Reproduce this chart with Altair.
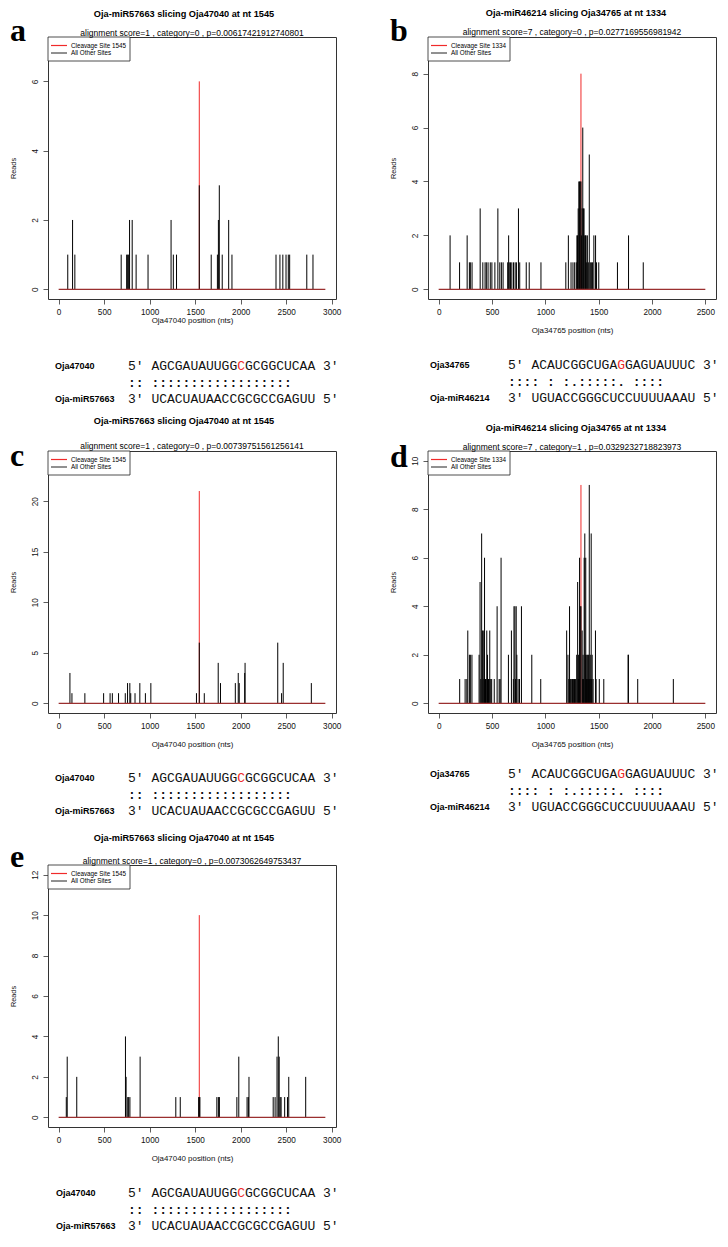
import altair as alt
import pandas as pd

# ------------------------------------------------------------------ data
X_TICKS_3000 = [0, 500, 1000, 1500, 2000, 2500, 3000]
X_TICKS_2500 = [0, 500, 1000, 1500, 2000, 2500]

# panel a
A_POS = [100, 153, 178, 687, 747, 758, 769, 779, 808, 851, 982, 1235, 1260, 1295, 1545,
         1676, 1744, 1755, 1765, 1797, 1868, 1904, 2388, 2431, 2463, 2498, 2523, 2538, 2726, 2794]
A_READS = [1, 2, 1, 1, 1, 1, 1, 2, 2, 1, 1, 2, 1, 1, 3,
           1, 1, 2, 3, 1, 2, 1, 1, 1, 1, 1, 1, 1, 1, 1]

# panel b
B_POS = [107, 196, 267, 288, 297, 313, 389, 414, 435, 447, 463, 484, 499, 527, 555, 573, 588, 604,
         647, 656, 662, 674, 686, 702, 717, 729, 748, 760, 821, 849, 959, 1192, 1216, 1241, 1259,
         1275, 1290, 1296, 1302, 1308, 1314, 1321, 1327, 1334, 1340, 1345, 1351, 1357, 1363, 1370,
         1376, 1382, 1388, 1394, 1403, 1412, 1422, 1434, 1443, 1455, 1471, 1480, 1501, 1676, 1780, 1918]
B_READS = [2, 1, 2, 1, 1, 1, 3, 1, 1, 1, 1, 1, 1, 1, 3, 1, 1, 1,
           1, 2, 1, 1, 1, 1, 1, 1, 3, 1, 1, 1, 1, 1, 2, 1, 1,
           1, 1, 2, 2, 3, 4, 4, 4, 4, 2, 3, 6, 3, 3, 2,
           2, 2, 1, 2, 1, 5, 1, 1, 1, 2, 2, 1, 1, 1, 2, 1]

# panel c
C_POS = [124, 146, 288, 494, 565, 590, 658, 732, 757, 782, 792, 839, 892, 953, 1013, 1514, 1545,
         1600, 1753, 1778, 1941, 1973, 1984, 2044, 2048, 2407, 2449, 2467, 2776]
C_READS = [3, 1, 1, 1, 1, 1, 1, 1, 2, 2, 1, 1, 2, 1, 2, 1, 6,
           1, 4, 2, 2, 3, 2, 3, 4, 6, 1, 4, 2]

# panel d
D_POS = [197, 248, 264, 273, 288, 297, 312, 379, 388, 395, 403, 412, 418, 424, 430, 439, 445, 451,
         458, 467, 473, 479, 488, 497, 521, 548, 567, 576, 585, 654, 682, 700, 706, 715, 721, 727,
         733, 745, 758, 776, 873, 957, 1200, 1212, 1220, 1227, 1233, 1239, 1248, 1254, 1260, 1266,
         1273, 1279, 1285, 1294, 1303, 1308, 1312, 1316, 1321, 1327, 1334, 1345, 1350, 1354, 1359,
         1364, 1370, 1375, 1379, 1384, 1388, 1392, 1397, 1402, 1406, 1412, 1416, 1421, 1426, 1430,
         1435, 1439, 1448, 1470, 1476, 1506, 1548, 1776, 1779, 1866, 2200]
D_READS = [1, 1, 1, 3, 2, 2, 2, 2, 5, 1, 7, 3, 3, 1, 6, 1, 1, 3,
           2, 1, 1, 3, 1, 1, 1, 4, 1, 1, 6, 2, 3, 1, 4, 4, 1, 4,
           2, 1, 1, 4, 2, 1, 3, 2, 1, 4, 1, 1, 1, 1, 1, 1,
           1, 1, 1, 2, 5, 1, 2, 1, 6, 4, 4, 3, 1, 2, 1,
           6, 7, 2, 6, 1, 2, 1, 2, 1, 2, 9, 1, 2, 1, 7,
           1, 2, 1, 3, 1, 1, 1, 2, 2, 1, 1]

# panel e
E_POS = [84, 94, 199, 734, 741, 759, 769, 783, 895, 1287, 1336, 1538, 1545, 1552, 1738, 1755, 1766,
         1958, 1979, 2070, 2084, 2091, 2357, 2378, 2399, 2413, 2423, 2434, 2444, 2483, 2514, 2528, 2714]
E_READS = [1, 3, 2, 4, 2, 1, 1, 1, 3, 1, 1, 1, 1, 1, 1, 1, 1,
           1, 3, 1, 1, 2, 1, 1, 3, 4, 3, 1, 1, 1, 1, 2, 2]

SEQ_T1 = "AGCGAUAUUGGCGCGGCUCAA"
SEQ_M1 = "UCACUAUAACCGCGCCGAGUU"
PAIR_1 = ":: ::::::::::::::::::"
SEQ_T2 = "ACAUCGGCUGAGGAGUAUUUC"
SEQ_M2 = "UGUACCGGGCUCCUUUUAAAU"
PAIR_2 = ":::: : :.:::::. :::: "

PANELS = [
    dict(letter="a", title="Oja-miR57663 slicing Oja47040 at nt 1545",
         sub="alignment score=1 , category=0 , p=0.00617421912740801",
         target="Oja47040", mir="Oja-miR57663", site=1545, site_reads=6,
         pos=A_POS, reads=A_READS, length=2930, xdom=[-117, 3047], xticks=X_TICKS_3000,
         ydom=[-0.28, 7.28], yticks=[0, 1, 2, 3, 4, 5, 6, 7],
         tseq=SEQ_T1, mseq=SEQ_M1, pairs=PAIR_1, red_idx=11),
    dict(letter="b", title="Oja-miR46214 slicing Oja34765 at nt 1334",
         sub="alignment score=7 , category=0 , p=0.0277169556981942",
         target="Oja34765", mir="Oja-miR46214", site=1334, site_reads=8,
         pos=B_POS, reads=B_READS, length=2500, xdom=[-100, 2600], xticks=X_TICKS_2500,
         ydom=[-0.36, 9.36], yticks=[0, 2, 4, 6, 8],
         tseq=SEQ_T2, mseq=SEQ_M2, pairs=PAIR_2, red_idx=11),
    dict(letter="c", title="Oja-miR57663 slicing Oja47040 at nt 1545",
         sub="alignment score=1 , category=0 , p=0.00739751561256141",
         target="Oja47040", mir="Oja-miR57663", site=1545, site_reads=21,
         pos=C_POS, reads=C_READS, length=2930, xdom=[-117, 3047], xticks=X_TICKS_3000,
         ydom=[-0.96, 24.96], yticks=[0, 5, 10, 15, 20],
         tseq=SEQ_T1, mseq=SEQ_M1, pairs=PAIR_1, red_idx=11),
    dict(letter="d", title="Oja-miR46214 slicing Oja34765 at nt 1334",
         sub="alignment score=7 , category=1 , p=0.0329232718823973",
         target="Oja34765", mir="Oja-miR46214", site=1334, site_reads=9,
         pos=D_POS, reads=D_READS, length=2500, xdom=[-100, 2600], xticks=X_TICKS_2500,
         ydom=[-0.4, 10.4], yticks=[0, 2, 4, 6, 8, 10],
         tseq=SEQ_T2, mseq=SEQ_M2, pairs=PAIR_2, red_idx=11),
    dict(letter="e", title="Oja-miR57663 slicing Oja47040 at nt 1545",
         sub="alignment score=1 , category=0 , p=0.0073062649753437",
         target="Oja47040", mir="Oja-miR57663", site=1545, site_reads=10,
         pos=E_POS, reads=E_READS, length=2930, xdom=[-117, 3047], xticks=X_TICKS_3000,
         ydom=[-0.48, 12.48], yticks=[0, 2, 4, 6, 8, 10, 12],
         tseq=SEQ_T1, mseq=SEQ_M1, pairs=PAIR_1, red_idx=11),
]

# ------------------------------------------------------------------ style
W, H = 288, 262
SANS = "Liberation Sans"
SERIF = "Liberation Serif"
MONO = "Liberation Mono"
RED = "#f02a2a"
BASE = "#9a2f2f"
NB = "\u00a0"
MONO_SIZE = 13
CW = 0.6 * MONO_SIZE

LETTER_Y = [4, 4, 15, 16, 2]
TITLE_DX = [-8, 4, -8, 4, -8]
TITLE_Y = [-23, -24, -30, -23, -27]
SUB_Y = [-4, -5, -5, -4, -4]
NAME_DX = [7, 2, 7, 2, 8]
XT_PAD = [1, 11, 11, 11, 11]
ALIGN_Y = [67, 66, 65, 61, 66]
SEQ_X = 80


def one(text):
    return pd.DataFrame({"t": [text]})


def txt(text, x, y, size, font=SANS, weight="normal", color="black", align="center",
        baseline="middle"):
    return alt.Chart(one(text)).mark_text(
        font=font, fontSize=size, fontWeight=weight, color=color, align=align,
        baseline=baseline).encode(text="t:N", x=alt.value(x), y=alt.value(y))


def panel(i, p):
    xscale = alt.Scale(domain=p["xdom"], nice=False, zero=False)
    yscale = alt.Scale(domain=p["ydom"], nice=False, zero=False)
    xaxis = alt.Axis(values=p["xticks"], format="d", title=p["target"] + " position (nts)",
                     titlePadding=XT_PAD[i])
    yaxis = alt.Axis(values=p["yticks"], format="d", title="Reads", labelAngle=270,
                     labelAlign="center", labelBaseline="bottom")

    site = pd.DataFrame({"pos": [p["site"]], "reads": [p["site_reads"]]})
    bars = pd.DataFrame({"pos": p["pos"], "reads": p["reads"]})
    base = pd.DataFrame({"pos": [0], "pos2": [p["length"]], "reads": [0]})

    red = alt.Chart(site).mark_rule(color=RED, strokeWidth=1).encode(
        x=alt.X("pos:Q", scale=xscale, axis=xaxis),
        y=alt.Y("reads:Q", scale=yscale, axis=yaxis),
        y2=alt.datum(0))
    black = alt.Chart(bars).mark_rule(color="black", strokeWidth=1).encode(
        x="pos:Q", y="reads:Q", y2=alt.datum(0))
    baseline = alt.Chart(base).mark_rule(color=BASE, strokeWidth=1.2).encode(
        x="pos:Q", x2="pos2:Q", y="reads:Q")

    # legend box
    box = alt.Chart(one("")).mark_rect(fill="white", stroke="#222", strokeWidth=0.8).encode(
        x=alt.value(0), x2=alt.value(82), y=alt.value(0), y2=alt.value(24))
    l1 = alt.Chart(one("")).mark_rule(color=RED, strokeWidth=1.2).encode(
        x=alt.value(3), x2=alt.value(19), y=alt.value(8.5))
    l2 = alt.Chart(one("")).mark_rule(color="#222", strokeWidth=1).encode(
        x=alt.value(3), x2=alt.value(19), y=alt.value(16))
    t1 = txt("Cleavage Site %d" % p["site"], 23, 8.5, 6.3, align="left")
    t2 = txt("All Other Sites", 23, 16, 6.3, align="left")

    # titles
    title = txt(p["title"], W / 2 + TITLE_DX[i], TITLE_Y[i], 9.2, weight="bold")
    sub = txt(p["sub"], W / 2, SUB_Y[i], 8.5)
    letter = txt(p["letter"], -38, LETTER_Y[i], 32, font=SERIF, weight="bold",
                 align="left", baseline="alphabetic")

    # alignment block
    y0 = H + ALIGN_Y[i]
    k = p["red_idx"]
    tseq = p["tseq"]
    pre_str = "5'" + NB + tseq[:k]
    post_str = tseq[k + 1:] + NB + "3'"
    mid_str = NB * 3 + p["pairs"].replace(" ", NB)
    bot_str = "3'" + NB + p["mseq"] + NB + "5'"
    name1 = txt(p["target"], NAME_DX[i], y0, 9, weight="bold", align="left")
    name2 = txt(p["mir"], NAME_DX[i], y0 + 33, 9, weight="bold", align="left")
    row1a = txt(pre_str, SEQ_X, y0, MONO_SIZE, font=MONO, color="#111", align="left")
    redc = txt(tseq[k], SEQ_X + (3 + k) * CW, y0, MONO_SIZE, font=MONO, color=RED, align="left")
    row1b = txt(post_str, SEQ_X + (4 + k) * CW, y0, MONO_SIZE, font=MONO, color="#111",
                align="left")
    row2 = txt(mid_str, SEQ_X, y0 + 16.5, MONO_SIZE, font=MONO, weight="bold", color="#111",
               align="left")
    row3 = txt(bot_str, SEQ_X, y0 + 33, MONO_SIZE, font=MONO, color="#111", align="left")

    return alt.layer(red, black, baseline, box, l1, l2, t1, t2, title, sub, letter,
                     name1, name2, row1a, redc, row1b, row2, row3).properties(width=W, height=H)


charts = [panel(i, p) for i, p in enumerate(PANELS)]

chart = alt.concat(*charts, columns=2, spacing={"row": 152, "column": 92}, bounds="flush").properties(
    padding={"left": 0, "top": 0, "right": 0, "bottom": 0}
).configure_view(
    stroke="#333", strokeWidth=1
).configure_axis(
    domain=False, grid=False, tickColor="#333", tickSize=5, tickWidth=0.8,
    labelFont=SANS, labelFontSize=8.2, labelColor="#111", labelPadding=4,
    titleFont=SANS, titleFontSize=7.9, titleFontWeight="normal", titleColor="#111"
).configure_axisY(
    labelAngle=270, titleFontSize=7.3, titlePadding=13
)

chart.save("out.html", embed_options={"renderer": "svg", "actions": False})
